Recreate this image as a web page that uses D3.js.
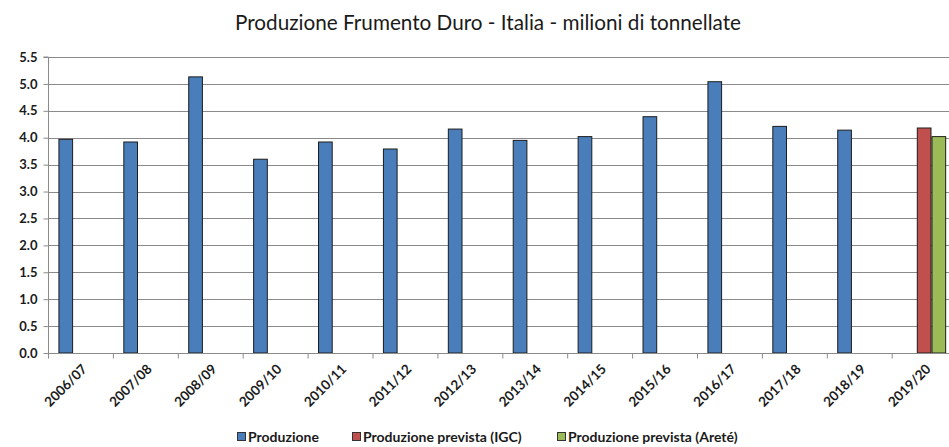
<!DOCTYPE html>
<html>
<head>
<meta charset="utf-8">
<script src="https://cdn.jsdelivr.net/npm/d3@7"></script>
<style>
  html, body { margin: 0; padding: 0; background: #fff; overflow: hidden; }
  svg { display: block; }
  text { font-family: Lato, "Open Sans", sans-serif; fill: #1a1a1a; }
</style>
</head>
<body>
<svg id="chart" width="949" height="447"></svg>
<script>
// Durum wheat production in Italy, million tonnes
const seasons = ["2006/07","2007/08","2008/09","2009/10","2010/11","2011/12","2012/13",
                 "2013/14","2014/15","2015/16","2016/17","2017/18","2018/19","2019/20"];
const produzione = [3.98, 3.93, 5.14, 3.61, 3.93, 3.80, 4.17, 3.96, 4.03, 4.40, 5.05, 4.22, 4.15, null];
const previstaIGC = [null, null, null, null, null, null, null, null, null, null, null, null, null, 4.19];
const previstaArete = [null, null, null, null, null, null, null, null, null, null, null, null, null, 4.03];
const seriesNames = ["Produzione", "Produzione prevista (IGC)", "Produzione prevista (Areté)"];
const seriesColors = ["#4a7ebb", "#c0504d", "#9bbb59"];
const yTicks = [0, 0.5, 1, 1.5, 2, 2.5, 3, 3.5, 4, 4.5, 5, 5.5];
const title = "Produzione Frumento Duro - Italia - milioni di tonnellate";

const svg = d3.select("#chart");
const plot = { left: 48, top: 57, bottom: 353, right: 48 + 14 * 64.9 };

const x = d3.scaleBand().domain(seasons).range([plot.left, plot.right]).paddingInner(0).paddingOuter(0);
const xs = d3.scaleBand().domain([0, 1, 2]).range([0, x.bandwidth()]).paddingInner(0).paddingOuter(0.71);
const y = d3.scaleLinear().domain([0, 5.5]).range([plot.bottom, plot.top]);

// horizontal gridlines
svg.append("g")
  .selectAll("line").data(yTicks.slice(1)).join("line")
  .attr("x1", plot.left).attr("x2", 949)
  .attr("y1", d => Math.round(y(d)) + 0.5).attr("y2", d => Math.round(y(d)) + 0.5)
  .attr("stroke", "#8a8a8a").attr("stroke-width", 1);

// bars
const allSeries = [produzione, previstaIGC, previstaArete];
allSeries.forEach((vals, si) => {
  svg.append("g")
    .selectAll("rect")
    .data(seasons.map((s, i) => ({ s, v: vals[i] })).filter(d => d.v != null))
    .join("rect")
    .attr("x", d => x(d.s) + xs(si) + 0.5)
    .attr("y", d => y(d.v) + 0.5)
    .attr("width", xs.bandwidth() - 1)
    .attr("height", d => y(0) - y(d.v) - 0.5)
    .attr("fill", seriesColors[si])
    .attr("stroke", "#1c1c1c")
    .attr("stroke-width", 1);
});

// y axis
const yAxis = d3.axisLeft(y).tickValues(yTicks).tickFormat(d3.format(".1f")).tickSize(5).tickPadding(6);
const gy = svg.append("g").attr("transform", `translate(${plot.left + 0.5},0)`).call(yAxis);
gy.select(".domain").attr("stroke", "#8a8a8a").attr("d", `M-5,${plot.top}H0V${plot.bottom}`);
gy.selectAll(".tick line").attr("stroke", "#8a8a8a");
gy.selectAll(".tick text")
  .style("font-family", "Lato, sans-serif").style("font-weight", "700")
  .style("font-size", "13px").attr("fill", "#222");

// x axis
const gx = svg.append("g").attr("transform", `translate(0,${plot.bottom + 0.5})`);
gx.append("line").attr("x1", plot.left).attr("x2", 949).attr("stroke", "#8a8a8a");
gx.selectAll("line.tk").data(seasons).join("line").attr("class", "tk")
  .attr("x1", d => x(d) + 0.5).attr("x2", d => x(d) + 0.5)
  .attr("y1", 0).attr("y2", 5).attr("stroke", "#8a8a8a");
gx.selectAll("text").data(seasons).join("text")
  .attr("transform", d => `translate(${x(d) + x.bandwidth() / 2 + 4},${13}) rotate(-45)`)
  .attr("text-anchor", "end")
  .attr("dy", "0.35em")
  .style("font-size", "13.5px").style("font-weight", "700")
  .text(d => d);

// title
svg.append("text")
  .attr("x", 488).attr("y", 30)
  .attr("text-anchor", "middle")
  .style("font-size", "20.7px").style("font-weight", "400")
  .text(title);

// legend
const legendX = [237, 352, 557];
const lg = svg.append("g").attr("transform", "translate(0,437)");
seriesNames.forEach((n, i) => {
  const it = lg.append("g").attr("transform", `translate(${legendX[i]},0)`);
  it.append("rect").attr("x", 0.5).attr("y", -4.5).attr("width", 8).attr("height", 8)
    .attr("fill", seriesColors[i]).attr("stroke", "#333");
  it.append("text").attr("x", 11).attr("y", 0).attr("dy", "0.35em")
    .style("font-size", "14px").style("font-weight", "700").text(n);
});
</script>
</body>
</html>
